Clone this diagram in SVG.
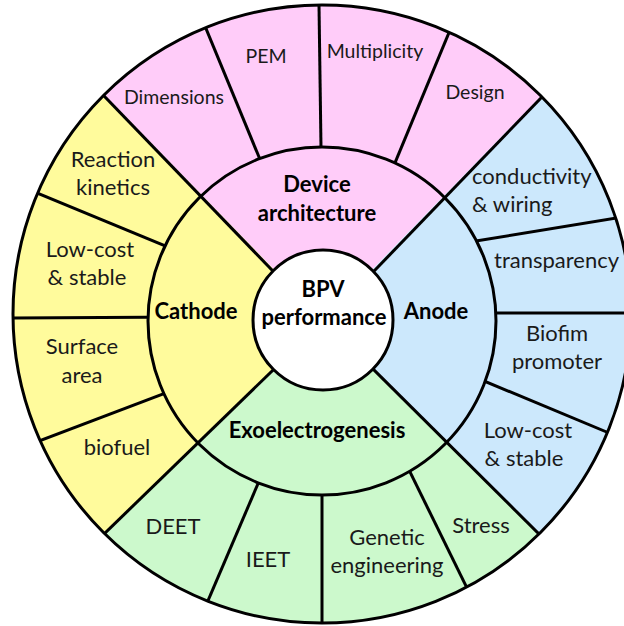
<svg xmlns="http://www.w3.org/2000/svg" width="624" height="626" viewBox="0 0 624 626">
<defs>
<clipPath id="outerClip"><circle cx="322" cy="314" r="309"/></clipPath>
<clipPath id="ringClip"><path clip-rule="evenodd" d="M13,314 A309,309 0 1,0 631,314 A309,309 0 1,0 13,314 Z M148,321 A174,174 0 1,0 496,321 A174,174 0 1,0 148,321 Z"/></clipPath>
<style>
.ln{stroke:#000;stroke-width:3;fill:none}
.t{font-family:Lato,"Open Sans","Liberation Sans",sans-serif;font-size:22px;fill:#1a1a1a;text-anchor:middle}
.s{font-size:19.5px}
.b{font-weight:bold;fill:#000}
</style>
</defs>
<rect width="624" height="626" fill="#fff"/>
<g clip-path="url(#outerClip)">
<g id="device-architecture-fill"><polygon points="323,320 -60,-74 705,-72" fill="#FFCCF9"/></g>
<g id="cathode-fill"><polygon points="323,320 -62,695 -60,-74" fill="#FFFB9C"/></g>
<g id="anode-fill"><polygon points="323,320 705,-72 705,699" fill="#CCE8FC"/></g>
<g id="exo-fill"><polygon points="323,320 705,699 -62,695" fill="#CCF9CC"/></g>
</g>
<g id="connectors">
<g clip-path="url(#ringClip)">
<line class="ln" x1="274.6" y1="194.8" x2="191.4" y2="-6.8"/>
<line class="ln" x1="321.6" y1="191" x2="318.4" y2="-38"/>
<line class="ln" x1="381.7" y1="194.9" x2="463.3" y2="-1.9"/>
<line class="ln" x1="200.8" y1="260.6" x2="-0.8" y2="177.4"/>
<line class="ln" x1="191" y1="317" x2="-28" y2="318.3"/>
<line class="ln" x1="200.2" y1="379.9" x2="1.8" y2="455.1"/>
<line class="ln" x1="441.8" y1="246.6" x2="656.2" y2="211.4"/>
<line class="ln" x1="455" y1="313" x2="680" y2="313"/>
<line class="ln" x1="453" y1="368" x2="645" y2="448"/>
<line class="ln" x1="272" y1="450.9" x2="192" y2="638.1"/>
<line class="ln" x1="322" y1="458" x2="322" y2="660"/>
<line class="ln" x1="395.5" y1="442.4" x2="483.5" y2="621.6"/>
</g>
<g clip-path="url(#outerClip)">
<line class="ln" x1="303" y1="302.2" x2="72" y2="62.8"/>
<line class="ln" x1="344.2" y1="302" x2="573.8" y2="64"/>
<line class="ln" x1="303.2" y1="340.8" x2="70.8" y2="566.2"/>
<line class="ln" x1="344.2" y1="340.4" x2="573.8" y2="568.6"/>
</g>
<circle class="ln" cx="322" cy="321" r="174"/>
<circle class="ln" cx="322" cy="314" r="309"/>
</g>
<g id="bpv-performance">
<circle cx="323" cy="320" r="70" fill="#fff" stroke="#000" stroke-width="3"/>
<text class="t b" x="323" y="297">BPV</text>
<text class="t b" x="324" y="325">performance</text>
</g>
<g id="device-architecture"><text class="t b" x="317" y="192">Device</text><text class="t b" x="317" y="221">architecture</text></g>
<g id="cathode"><text class="t b" x="196" y="319">Cathode</text></g>
<g id="anode"><text class="t b" x="436" y="319">Anode</text></g>
<g id="exoelectrogenesis"><text class="t b" x="317" y="438">Exoelectrogenesis</text></g>
<g id="dimensions"><text class="t s" x="174" y="104">Dimensions</text></g>
<g id="pem"><text class="t s" x="266" y="63">PEM</text></g>
<g id="multiplicity"><text class="t s" x="375" y="58">Multiplicity</text></g>
<g id="design"><text class="t s" x="475" y="99">Design</text></g>
<g id="conductivity"><text class="t" style="text-anchor:start" x="472" y="184">conductivity</text><text class="t" style="text-anchor:start" x="472" y="212">&amp; wiring</text></g>
<g id="transparency"><text class="t" style="text-anchor:start" x="494" y="268">transparency</text></g>
<g id="biofilm-promoter"><text class="t" x="557" y="341">Biofim</text><text class="t" x="557" y="369">promoter</text></g>
<g id="anode-lowcost"><text class="t" x="528" y="438">Low-cost</text><text class="t" x="524" y="466">&amp; stable</text></g>
<g id="stress"><text class="t" x="481" y="533">Stress</text></g>
<g id="genetic-engineering"><text class="t" x="387" y="545">Genetic</text><text class="t" x="387" y="573">engineering</text></g>
<g id="ieet"><text class="t" x="268" y="567">IEET</text></g>
<g id="deet"><text class="t" x="173" y="534">DEET</text></g>
<g id="biofuel"><text class="t" x="117" y="455">biofuel</text></g>
<g id="surface-area"><text class="t" x="82" y="354">Surface</text><text class="t" x="82" y="383">area</text></g>
<g id="cathode-lowcost"><text class="t" x="90" y="257">Low-cost</text><text class="t" x="87" y="285">&amp; stable</text></g>
<g id="reaction-kinetics"><text class="t" x="113" y="167">Reaction</text><text class="t" x="113" y="195">kinetics</text></g>
</svg>
